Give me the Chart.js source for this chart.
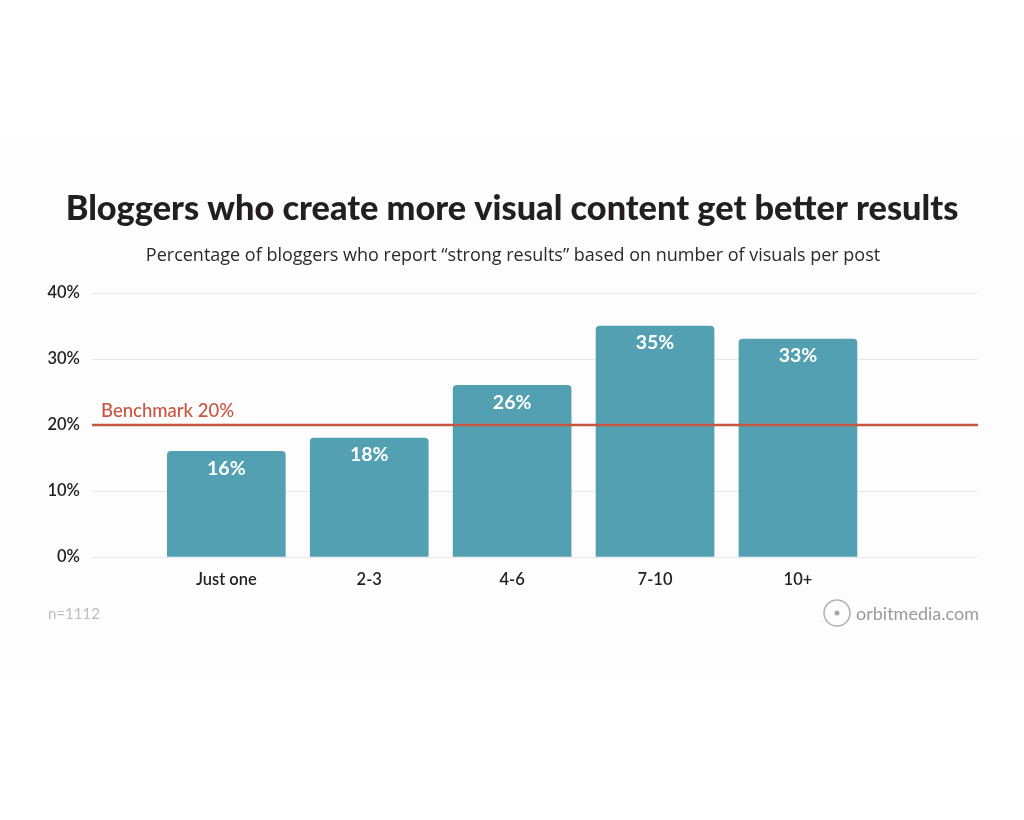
<!DOCTYPE html>
<html>
<head>
<meta charset="utf-8">
<script src="https://cdn.jsdelivr.net/npm/chart.js@4.4.1/dist/chart.umd.min.js"></script>
<style>
  html, body { margin: 0; padding: 0; background: #ffffff; }
  #banda { position: absolute; left: 0; top: 141px; width: 1024px; height: 539px; background: #fdfdfd; }
  #caja { position: absolute; left: 0; top: 0; width: 1024px; height: 820px; }
</style>
</head>
<body>
<div id="banda"></div>
<div id="caja"><canvas id="grafica" width="1024" height="820"></canvas></div>
<script>
var categorias = ["Just one", "2-3", "4-6", "7-10", "10+"];
var porcentajes = [16, 18, 26, 35, 33];
var ticksY = [0, 10, 20, 30, 40];
var benchmark = 20;

var titulo = "Bloggers who create more visual content get better results";
var subtitulo = "Percentage of bloggers who report \u201cstrong results\u201d based on number of visuals per post";
var muestra = "n=1112";
var fuente = "orbitmedia.com";

var colorBarra = "#54a0b3";
var colorLinea = "#c8553d";

// textos, linea de benchmark y etiquetas de las barras
var extras = {
    id: "extras",
    beforeDraw: function (chart) {
        var ctx = chart.ctx;
        ctx.save();
        ctx.textAlign = "center";
        ctx.textBaseline = "middle";
        ctx.fillStyle = "#231f20";
        ctx.font = "900 34.3px Lato";
        ctx.fillText(titulo, 512, 209);
        ctx.fillStyle = "#2a2a2a";
        ctx.font = "18px 'Open Sans'";
        ctx.fillText(subtitulo, 513, 256);

        ctx.textAlign = "left";
        ctx.fillStyle = "#bdbdbd";
        ctx.font = "15px Lato";
        ctx.fillText(muestra, 48, 614);

        // logo
        ctx.strokeStyle = "#b3b3b3";
        ctx.lineWidth = 1.6;
        ctx.beginPath();
        ctx.arc(837, 613, 13, 0, Math.PI * 2);
        ctx.stroke();
        ctx.fillStyle = "#a8a8a8";
        ctx.beginPath();
        ctx.arc(837, 613, 2.5, 0, Math.PI * 2);
        ctx.fill();
        ctx.fillStyle = "#9a9a9a";
        ctx.font = "18px Lato";
        ctx.fillText(fuente, 856, 614);
        ctx.restore();
    },
    afterDatasetsDraw: function (chart) {
        var ctx = chart.ctx;
        var area = chart.chartArea;
        var y = chart.scales.y.getPixelForValue(benchmark);
        ctx.save();
        ctx.strokeStyle = colorLinea;
        ctx.lineWidth = 2.5;
        ctx.beginPath();
        ctx.moveTo(area.left, y);
        ctx.lineTo(area.right, y);
        ctx.stroke();

        ctx.fillStyle = colorLinea;
        ctx.font = "500 18.5px Lato";
        ctx.textAlign = "left";
        ctx.textBaseline = "alphabetic";
        ctx.fillText("Benchmark " + benchmark + "%", 101, 417);

        var barras = chart.getDatasetMeta(0).data;
        ctx.fillStyle = "#ffffff";
        ctx.font = "bold 19.5px Lato";
        ctx.textAlign = "center";
        ctx.textBaseline = "middle";
        for (var i = 0; i < barras.length; i++) {
            ctx.fillText(porcentajes[i] + "%", barras[i].x, barras[i].y + 17);
        }
        ctx.restore();
    }
};

var puntos = [];
for (var i = 0; i < categorias.length; i++) {
    puntos.push({ x: i, y: porcentajes[i] });
}

var miCanvas = document.getElementById("grafica").getContext("2d");
var chart = new Chart(miCanvas, {
    type: "bar",
    data: {
        datasets: [{
            data: puntos,
            backgroundColor: colorBarra,
            borderRadius: { topLeft: 4, topRight: 4 },
            borderSkipped: "bottom",
            barThickness: 118
        }]
    },
    options: {
        responsive: false,
        animation: false,
        layout: { padding: { top: 293, left: 30, right: 46, bottom: 223 } },
        plugins: { legend: { display: false }, tooltip: { enabled: false } },
        scales: {
            x: {
                type: "linear",
                offset: false,
                min: -0.94,
                max: 5.26,
                afterBuildTicks: function (scale) {
                    scale.ticks = categorias.map(function (c, i) { return { value: i }; });
                },
                afterFit: function (scale) { scale.height = 40; },
                ticks: {
                    padding: 5,
                    color: "#231f20",
                    font: { family: "Lato", size: 16.5, weight: "600" },
                    callback: function (v) { return categorias[v]; }
                },
                grid: { display: false },
                border: { display: false }
            },
            y: {
                min: 0,
                max: 40,
                afterBuildTicks: function (scale) {
                    scale.ticks = ticksY.map(function (v) { return { value: v }; });
                },
                afterFit: function (scale) { scale.width = 62; },
                ticks: {
                    padding: 12,
                    color: "#231f20",
                    font: { family: "Lato", size: 16.5, weight: "600" },
                    callback: function (v) { return v + "%"; }
                },
                grid: { color: "#e8e8e8", lineWidth: 1, drawTicks: false },
                border: { display: false }
            }
        }
    },
    plugins: [extras]
});
</script>
</body>
</html>
